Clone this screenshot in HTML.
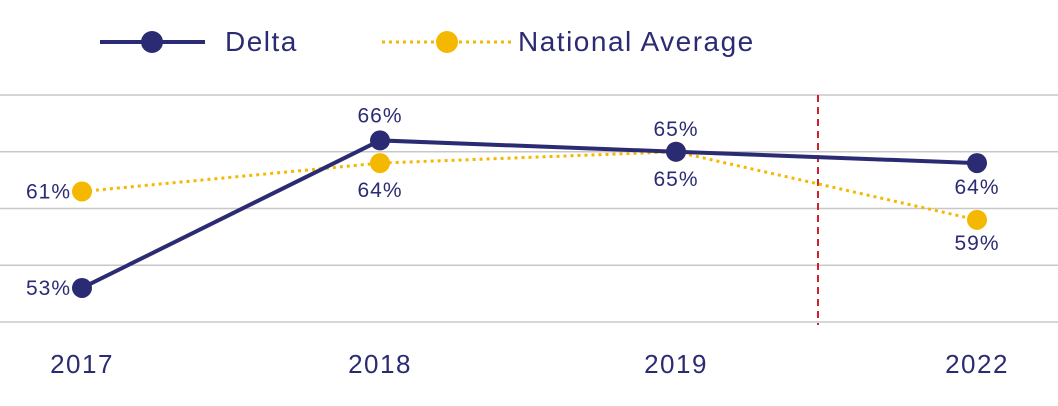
<!DOCTYPE html>
<html><head><meta charset="utf-8"><style>
html,body{margin:0;padding:0;background:#fff;}
svg{display:block;font-family:"Liberation Sans",sans-serif;}
</style></head><body>
<svg id="chart" width="1058" height="406" viewBox="0 0 1058 406">
<g id="grid"></g>
<line x1="818" y1="95" x2="818" y2="325" stroke="#d0202a" stroke-width="2" stroke-dasharray="7,5"/>
<g>
 <g>
  <line x1="100" y1="42" x2="205" y2="42" stroke="#2b2b73" stroke-width="4"/>
  <circle cx="152" cy="42" r="11" fill="#2b2b73"/>
  <text x="225" y="51" font-size="28" letter-spacing="1.5" fill="#2b2b73">Delta</text>
 </g>
 <g>
  <line x1="382" y1="42" x2="512" y2="42" stroke="#f5b800" stroke-width="3" stroke-dasharray="3,4"/>
  <circle cx="447" cy="42" r="11" fill="#f5b800"/>
  <text x="518" y="51" font-size="28" letter-spacing="1.5" fill="#2b2b73">National Average</text>
 </g>
</g>
<g id="xaxis"></g>
<g id="series"></g>
</svg>
<script>
const categories = ["2017","2018","2019","2022"];
const deltaValues = [53,66,65,64];
const nationalValues = [61.5,64,65,59];
const deltaLabels = ["53%","66%","65%","64%"];
const nationalLabels = ["61%","64%","65%","59%"];
const gridTicks = [50,55,60,65,70];

const NS="http://www.w3.org/2000/svg";
function xs(i){return [82,380,676,977][i];}
function y(v){return 322-(v-50)*11.35;}
function mk(tag,attrs,parent){const e=document.createElementNS(NS,tag);for(const k in attrs)e.setAttribute(k,attrs[k]);parent.appendChild(e);return e;}
const grid=document.getElementById('grid');
gridTicks.forEach(t=>{
 const l=mk('line',{x1:0,x2:1058,y1:y(t),y2:y(t),stroke:'#c8c8c8','stroke-width':1.5},grid);
 
 
});
const xa=document.getElementById('xaxis');
categories.forEach((c,i)=>{
 const t=mk('text',{x:xs(i),y:373,'font-size':26,'letter-spacing':1.5,fill:'#2b2b73','text-anchor':'middle'},xa);
 t.textContent=c;
 
 
});
const s=document.getElementById('series');
function series(vals,labels,color,dash,name,labelOffsets,anchors){
 const pts=vals.map((v,i)=>xs(i)+','+y(v)).join(' ');
 const pl=mk('polyline',{points:pts,fill:'none',stroke:color,'stroke-width':dash?3:4},s);
 if(dash)pl.setAttribute('stroke-dasharray','3,4');
 
 
 vals.forEach((v,i)=>{
  const c=mk('circle',{cx:xs(i),cy:y(v),r:10,fill:color},s);
  
  
  const o=labelOffsets[i];
  const t=mk('text',{x:xs(i)+o[0],y:y(v)+o[1],'font-size':21,'letter-spacing':1,fill:'#2b2b73','text-anchor':anchors[i]},s);
  t.textContent=labels[i];
  
  
 });
}
series(nationalValues,nationalLabels,'#f5b800',true,'national-average',[[-11,7],[0,34],[0,34],[0,30]],['end','middle','middle','middle']);
series(deltaValues,deltaLabels,'#2b2b73',false,'delta',[[-11,7],[0,-18],[0,-16],[0,31]],['end','middle','middle','middle']);
</script>
</body></html>
